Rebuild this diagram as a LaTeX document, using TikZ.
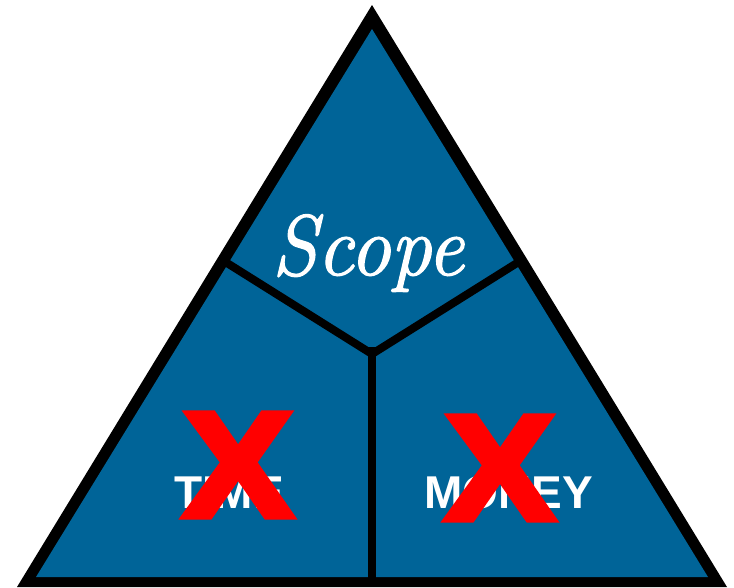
\documentclass[tikz,border=0pt]{standalone}
\usepackage{fontspec}
\newfontfamily\arialfont{Liberation Sans}
\newfontfamily\crossfont[FakeBold=4]{Liberation Sans Bold}
\newfontfamily\scopefont[FakeBold=1.5]{Latin Modern Roman}
\usetikzlibrary{positioning, calc}
\definecolor{scopeblue}{RGB}{0,100,152}

\begin{document}
\begin{tikzpicture}[x=1pt, y=-1pt,
  divider/.style={line width=8pt, black},
  sidelabel/.style={text=white, font=\arialfont\bfseries\fontsize{46}{46}\selectfont, anchor=base, inner sep=0pt},
  crossmark/.style={text=red, font=\crossfont\fontsize{150}{150}\selectfont, xscale=1.1, anchor=center, inner sep=0pt}]
  \useasboundingbox (0,0) rectangle (734,587);
  % triangle with black rim
  \fill[black] (372,5) -- (17,587) -- (727,587) -- cycle;
  \fill[scopeblue] (372,29) -- (36,577) -- (708,577) -- cycle;
  \coordinate (hub) at (372,354);
  \coordinate (hubtop) at (372,347);
  \coordinate (leftedge) at (227,263);
  \coordinate (rightedge) at (517,263);
  \coordinate (base) at (372,580);
  \draw[divider] (leftedge) -- (hub) -- (rightedge);
  \draw[divider] (hubtop) -- (base);
  % labels
  \node[text=white, font=\scopefont\itshape\fontsize{86}{86}\selectfont, xscale=0.95, anchor=base, inner sep=0pt] (scope) at (368,275) {Scope};
  \node[sidelabel] (time) at (229,508) {TIME};
  \node[sidelabel] (money) at (509,508) {MONEY};
  \node[crossmark] (timex) at (238,465) {X};
  \node[crossmark] (moneyx) at (500,468) {X};
\end{tikzpicture}
\end{document}
